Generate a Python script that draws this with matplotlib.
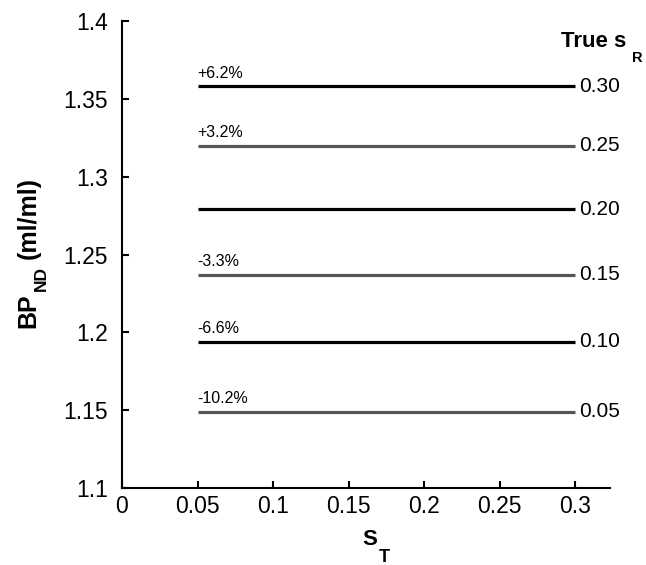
import matplotlib
matplotlib.use("Agg")
import matplotlib.pyplot as plt

plt.rcParams['font.family'] = ['Liberation Sans', 'DejaVu Sans']

# Data
s_T = [0.05, 0.10, 0.15, 0.20, 0.25, 0.30]
true_sR = ["0.30", "0.25", "0.20", "0.15", "0.10", "0.05"]
bp_nd = [1.358, 1.320, 1.279, 1.237, 1.194, 1.149]
pct_labels = ["+6.2%", "+3.2%", "", "-3.3%", "-6.6%", "-10.2%"]
line_colors = ["#000000", "#555555", "#000000", "#555555", "#000000", "#555555"]
x_ticks = [0, 0.05, 0.1, 0.15, 0.2, 0.25, 0.3]
x_tick_labels = ["0", "0.05", "0.1", "0.15", "0.2", "0.25", "0.3"]
y_ticks = [1.1, 1.15, 1.2, 1.25, 1.3, 1.35, 1.4]
y_tick_labels = ["1.1", "1.15", "1.2", "1.25", "1.3", "1.35", "1.4"]

W, H = 646, 565
fig = plt.figure(figsize=(W/100, H/100), dpi=100)
ax = fig.add_axes([122/W, 1-488/H, (610-122)/W, (488-21)/H])

def fx(px):
    return px / W

def fy(py):
    return 1 - py / H

for val, lab, pct, col in zip(bp_nd, true_sR, pct_labels, line_colors):
    ax.plot(s_T, [val]*len(s_T), color=col, lw=2.3, solid_capstyle='butt')
    ax.annotate(lab, xy=(s_T[-1], val), xytext=(3, 0), textcoords='offset points',
                ha='left', va='center', fontsize=15)
    if pct:
        ax.annotate(pct, xy=(s_T[0], val), xytext=(0, 4), textcoords='offset points',
                    ha='left', va='bottom', fontsize=11.5)

# "True s_R" header
fig.text(fx(561), fy(47), "True s", fontsize=16, fontweight='bold', ha='left', va='baseline')
fig.text(fx(632), fy(62), "R", fontsize=10.5, fontweight='bold', ha='left', va='baseline')

ax.set_xlim(0, 0.323)
ax.set_ylim(1.1, 1.4)
ax.set_xticks(x_ticks)
ax.set_xticklabels(x_tick_labels)
ax.set_yticks(y_ticks)
ax.set_yticklabels(y_tick_labels)
ax.tick_params(direction='in', length=5, width=1.5, labelsize=16.5)
ax.tick_params(axis='x', pad=5)
ax.tick_params(axis='y', pad=10)
for s in ['top', 'right']:
    ax.spines[s].set_visible(False)
for s in ['left', 'bottom']:
    ax.spines[s].set_linewidth(1.5)

# x label S_T
fig.text(fx(362), fy(545), "S", fontsize=16, fontweight='bold', ha='left', va='baseline')
fig.text(fx(379), fy(562), "T", fontsize=13, fontweight='bold', ha='left', va='baseline')

# y label BP_ND (ml/ml)
fig.text(fx(28), fy(328), "BP", fontsize=18, fontweight='bold', rotation=90,
         ha='center', va='bottom')
fig.text(fx(41), fy(291), "ND", fontsize=12.5, fontweight='bold', rotation=90,
         ha='center', va='bottom')
fig.text(fx(29), fy(259), "(ml/ml)", fontsize=18, fontweight='bold', rotation=90,
         ha='center', va='bottom')

fig.savefig("out.png", dpi=100)
